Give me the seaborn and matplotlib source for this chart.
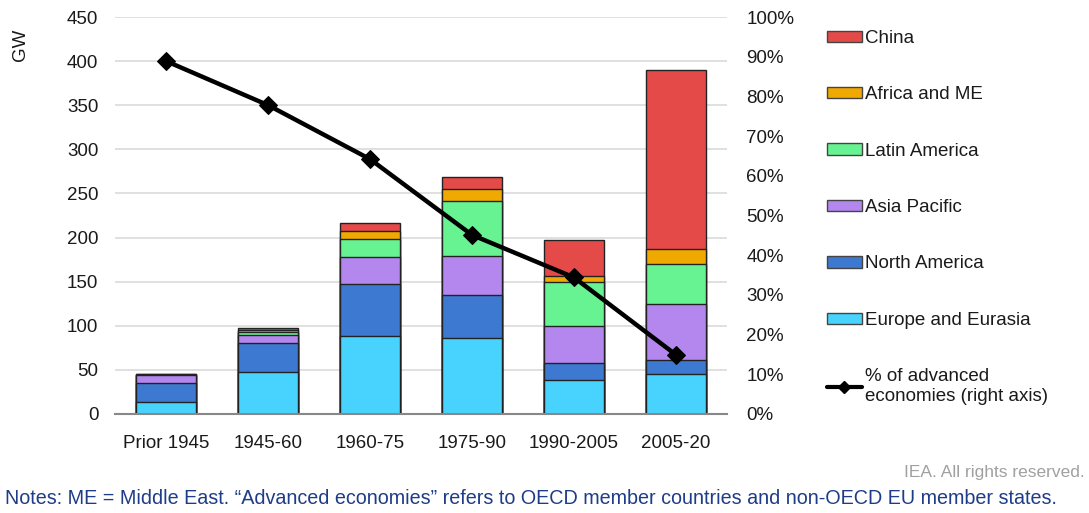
import numpy as np
import pandas as pd
import matplotlib
matplotlib.use("Agg")
import matplotlib.pyplot as plt
import seaborn as sns
from matplotlib.patches import Patch
from matplotlib.lines import Line2D

# ---- data ----
periods = ["Prior 1945", "1945-60", "1960-75", "1975-90", "1990-2005", "2005-20"]
europe = [14, 48, 88, 86, 39, 45]
north_america = [21, 32, 59, 49, 19, 16]
asia_pacific = [9, 10, 31, 44, 42, 64]
latin_america = [0.5, 2.5, 20, 62.5, 50, 45]
africa_me = [0.3, 2.5, 9.5, 13.5, 6, 17.5]
china = [0.5, 3, 8.5, 14, 41, 202.5]
pct_advanced = [88.9, 77.8, 64.2, 45.1, 34.4, 14.9]

series_names = ["Europe and Eurasia", "North America", "Asia Pacific",
                "Latin America", "Africa and ME", "China"]
series_vals = [europe, north_america, asia_pacific, latin_america, africa_me, china]
colors = ["#47D3FE", "#3E79D1", "#B387EE", "#67F391", "#F0A900", "#E44B48"]

sns.set_theme(style="white")
plt.rcParams["font.family"] = ["Liberation Sans", "DejaVu Sans"]

FS = 13.5
TXT = "#1A1A1A"

fig = plt.figure(figsize=(10.89, 5.13), dpi=100)
ax = fig.add_axes([115/1089, 1 - 414/513, (727-115)/1089, (414-17)/513])

# cumulative stacks drawn from top down so each lower layer overlays
cum = np.cumsum(np.array(series_vals), axis=0)
for i in range(len(series_names) - 1, -1, -1):
    df = pd.DataFrame({"period": periods, "value": cum[i]})
    sns.barplot(data=df, x="period", y="value", color=colors[i], width=0.58,
                edgecolor="#222222", linewidth=1.0, saturation=1, ax=ax)

ax.set_ylim(0, 450)
ax.set_xlim(-0.5, 5.5)
ax.set_yticks(range(0, 451, 50))
ax.yaxis.grid(True, color="#DADADA", linewidth=1.2)
ax.set_axisbelow(True)
for s in ["top", "right", "left"]:
    ax.spines[s].set_visible(False)
ax.spines["bottom"].set_color("#888888")
ax.spines["bottom"].set_linewidth(1.5)
ax.set_xlabel("")
ax.set_ylabel("GW", fontsize=FS, color=TXT)
ax.yaxis.set_label_coords((29 - 115)/612, 1 - 28/397)
ax.tick_params(axis="y", labelsize=FS, colors=TXT, length=0, pad=12)
ax.tick_params(axis="x", labelsize=FS, colors=TXT, length=0, pad=15)

ax2 = ax.twinx()
sns.lineplot(x=np.arange(len(periods)), y=pct_advanced, ax=ax2, color="black",
             linewidth=3.2, marker="D", markersize=9, markeredgecolor="black")
ax2.set_ylim(0, 100)
ax2.set_xlim(-0.5, 5.5)
ax2.set_yticks(range(0, 101, 10))
ax2.set_yticklabels([f"{v}%" for v in range(0, 101, 10)])
ax2.tick_params(axis="y", labelsize=FS, colors=TXT, length=0, pad=14)
for s in ["top", "right", "left", "bottom"]:
    ax2.spines[s].set_visible(False)
ax2.grid(False)

handles = [Patch(facecolor=colors[i], edgecolor="#444444", linewidth=1.0)
           for i in range(len(series_names) - 1, -1, -1)]
labels = [series_names[i] for i in range(len(series_names) - 1, -1, -1)]
handles.append(Line2D([0], [0], color="black", linewidth=3, marker="D", markersize=6))
labels.append("% of advanced\neconomies (right axis)")
fig.legend(handles, labels, loc="upper left", bbox_to_anchor=(827/1089, 1 - 30/513),
           frameon=False, fontsize=FS, labelspacing=2.1, handlelength=1.85,
           handleheight=0.55, handletextpad=0.2, borderaxespad=0, borderpad=0,
           labelcolor=TXT)

fig.text(1 - 4/1089, 1 - 472/513, "IEA. All rights reserved.", ha="right", va="center",
         fontsize=12.5, color="#A0A0A0")
fig.text(5/1089, 1 - 498/513,
         "Notes: ME = Middle East. \u201cAdvanced economies\u201d refers to OECD member countries and non-OECD EU member states.",
         ha="left", va="center", fontsize=14.2, color="#1F3C88")

fig.savefig("out.png", dpi=100)
